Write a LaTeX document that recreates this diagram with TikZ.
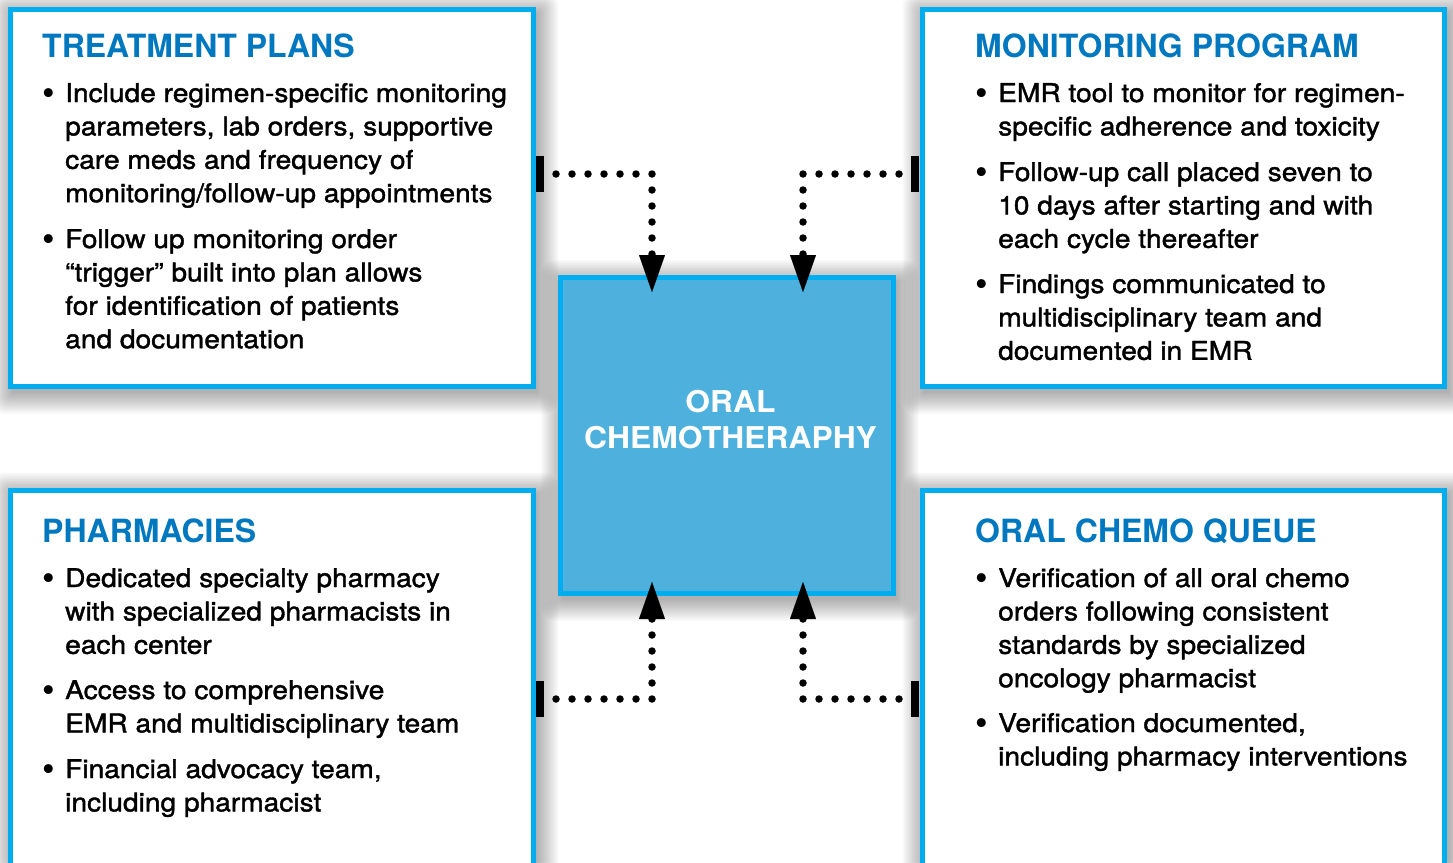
\documentclass[tikz,border=0pt]{standalone}
\usepackage{fontspec}
\setmainfont{TeX Gyre Heros}
\newfontfamily\bodyfont[FakeStretch=1.09,FakeBold=1.5]{TeX Gyre Heros}
\newfontfamily\ctrfont[FakeStretch=1.06]{TeX Gyre Heros}
\usetikzlibrary{arrows.meta,backgrounds}
\definecolor{boxcyan}{HTML}{00AEEF}
\definecolor{ctrfill}{HTML}{4DB0DD}
\definecolor{titleblue}{HTML}{0078C0}
\newcommand\bitem[1]{\llap{\raisebox{-3.5pt}{\rmfamily\fontsize{36}{36}\selectfont\textbullet}\hspace{10.5pt}}\begin{tabular}[t]{@{}l@{}}#1\end{tabular}}
\newcommand\panelshadow[1]{%
  \foreach \i in {1,...,14}{%
    \fill[black,fill opacity=0.022,rounded corners=\i pt]
      ([shift={(3-1.6*\i,5-1.6*\i)}]#1.north west) rectangle
      ([shift={(3+1.6*\i,5+1.6*\i)}]#1.south east);}}
\tikzset{
  panel/.style={draw=boxcyan, line width=5pt, fill=white, inner sep=0pt, outer sep=0pt},
  hubbox/.style={draw=boxcyan, line width=4.5pt, fill=ctrfill, inner sep=0pt, outer sep=0pt},
  ttl/.style={anchor=base west, inner sep=0pt, text=titleblue, font=\fontsize{32}{38}\selectfont\bfseries},
  itm/.style={anchor=base west, inner sep=0pt, font=\bodyfont\fontsize{25.8}{33.4}\selectfont},
  tickmark/.style={fill=black, minimum width=8pt, minimum height=36pt, inner sep=0pt, outer sep=0pt},
  dotline/.style={line width=7.5pt, line cap=round, dash pattern=on 0pt off 16pt,
    -{Triangle[width=26pt,length=37pt,line width=0.1pt]}},
}
\begin{document}
\begin{tikzpicture}[x=1pt,y=-1pt]
\useasboundingbox (0,0) rectangle (1453,862);
% panels
\node[panel, minimum width=522.5pt, minimum height=377pt] (tl) at (271.75,198) {};
\node[panel, minimum width=522.5pt, minimum height=377pt] (tr) at (1183.25,198) {};
\node[panel, minimum width=522.5pt, minimum height=470pt] (bl) at (271.75,725) {};
\node[panel, minimum width=522.5pt, minimum height=470pt] (br) at (1183.25,725) {};
\node[hubbox, minimum width=333pt, minimum height=316pt] (hub) at (727,435.5) {};
\begin{scope}[on background layer]
  \fill[white] (0,0) rectangle (1453,862);
  \panelshadow{tl}
  \panelshadow{tr}
  \panelshadow{bl}
  \panelshadow{br}
  \panelshadow{hub}
\end{scope}
% hub text
\node[anchor=base, inner sep=0pt, text=white, font=\ctrfont\bfseries\fontsize{30}{36}\selectfont] (hubtxt) at (730.5,412)
  {\begin{tabular}[t]{@{}c@{}}ORAL\\CHEMOTHERAPHY\end{tabular}};
% titles
\node[ttl] (tlt) at (42,57) {TREATMENT PLANS};
\node[ttl] (trt) at (975,57) {MONITORING PROGRAM};
\node[ttl] (blt) at (42,542) {PHARMACIES};
\node[ttl] (brt) at (975,542) {ORAL CHEMO QUEUE};
% top left items
\node[itm] (tl1) at (65,102) {\bitem{Include regimen-specific monitoring\\parameters, lab orders, supportive\\care meds and frequency of\\monitoring/follow-up appointments}};
\node[itm] (tl2) at (65,248) {\bitem{Follow up monitoring order\\“trigger” built into plan allows\\for identification of patients\\and documentation}};
% top right items
\node[itm] (tr1) at (998,102) {\bitem{EMR tool to monitor for regimen-\\specific adherence and toxicity}};
\node[itm] (tr2) at (998,181) {\bitem{Follow-up call placed seven to\\10 days after starting and with\\each cycle thereafter}};
\node[itm] (tr3) at (998,293) {\bitem{Findings communicated to\\multidisciplinary team and\\documented in EMR}};
% bottom left items
\node[itm] (bl1) at (65,587) {\bitem{Dedicated specialty pharmacy\\with specialized pharmacists in\\each center}};
\node[itm] (bl2) at (65,699) {\bitem{Access to comprehensive\\EMR and multidisciplinary team}};
\node[itm] (bl3) at (65,778) {\bitem{Financial advocacy team,\\including pharmacist}};
% bottom right items
\node[itm] (br1) at (998,587) {\bitem{Verification of all oral chemo\\orders following consistent\\standards by specialized\\oncology pharmacist}};
\node[itm] (br2) at (998,732) {\bitem{Verification documented,\\including pharmacy interventions}};
% tick marks
\node[tickmark] (tk1) at (540,174) {};
\node[tickmark] (tk2) at (915,174) {};
\node[tickmark] (tk3) at (540,699) {};
\node[tickmark] (tk4) at (915,699) {};
% connectors
\draw[dotline] (tk1.center) -| ([xshift=-75pt,yshift=-14.5pt]hub.north);
\draw[dotline] (tk2.center) -| ([xshift=76pt,yshift=-14.5pt]hub.north);
\draw[dotline] (tk3.center) -| ([xshift=-75pt,yshift=11.5pt]hub.south);
\draw[dotline] (tk4.center) -| ([xshift=76pt,yshift=11.5pt]hub.south);
\end{tikzpicture}
\end{document}
